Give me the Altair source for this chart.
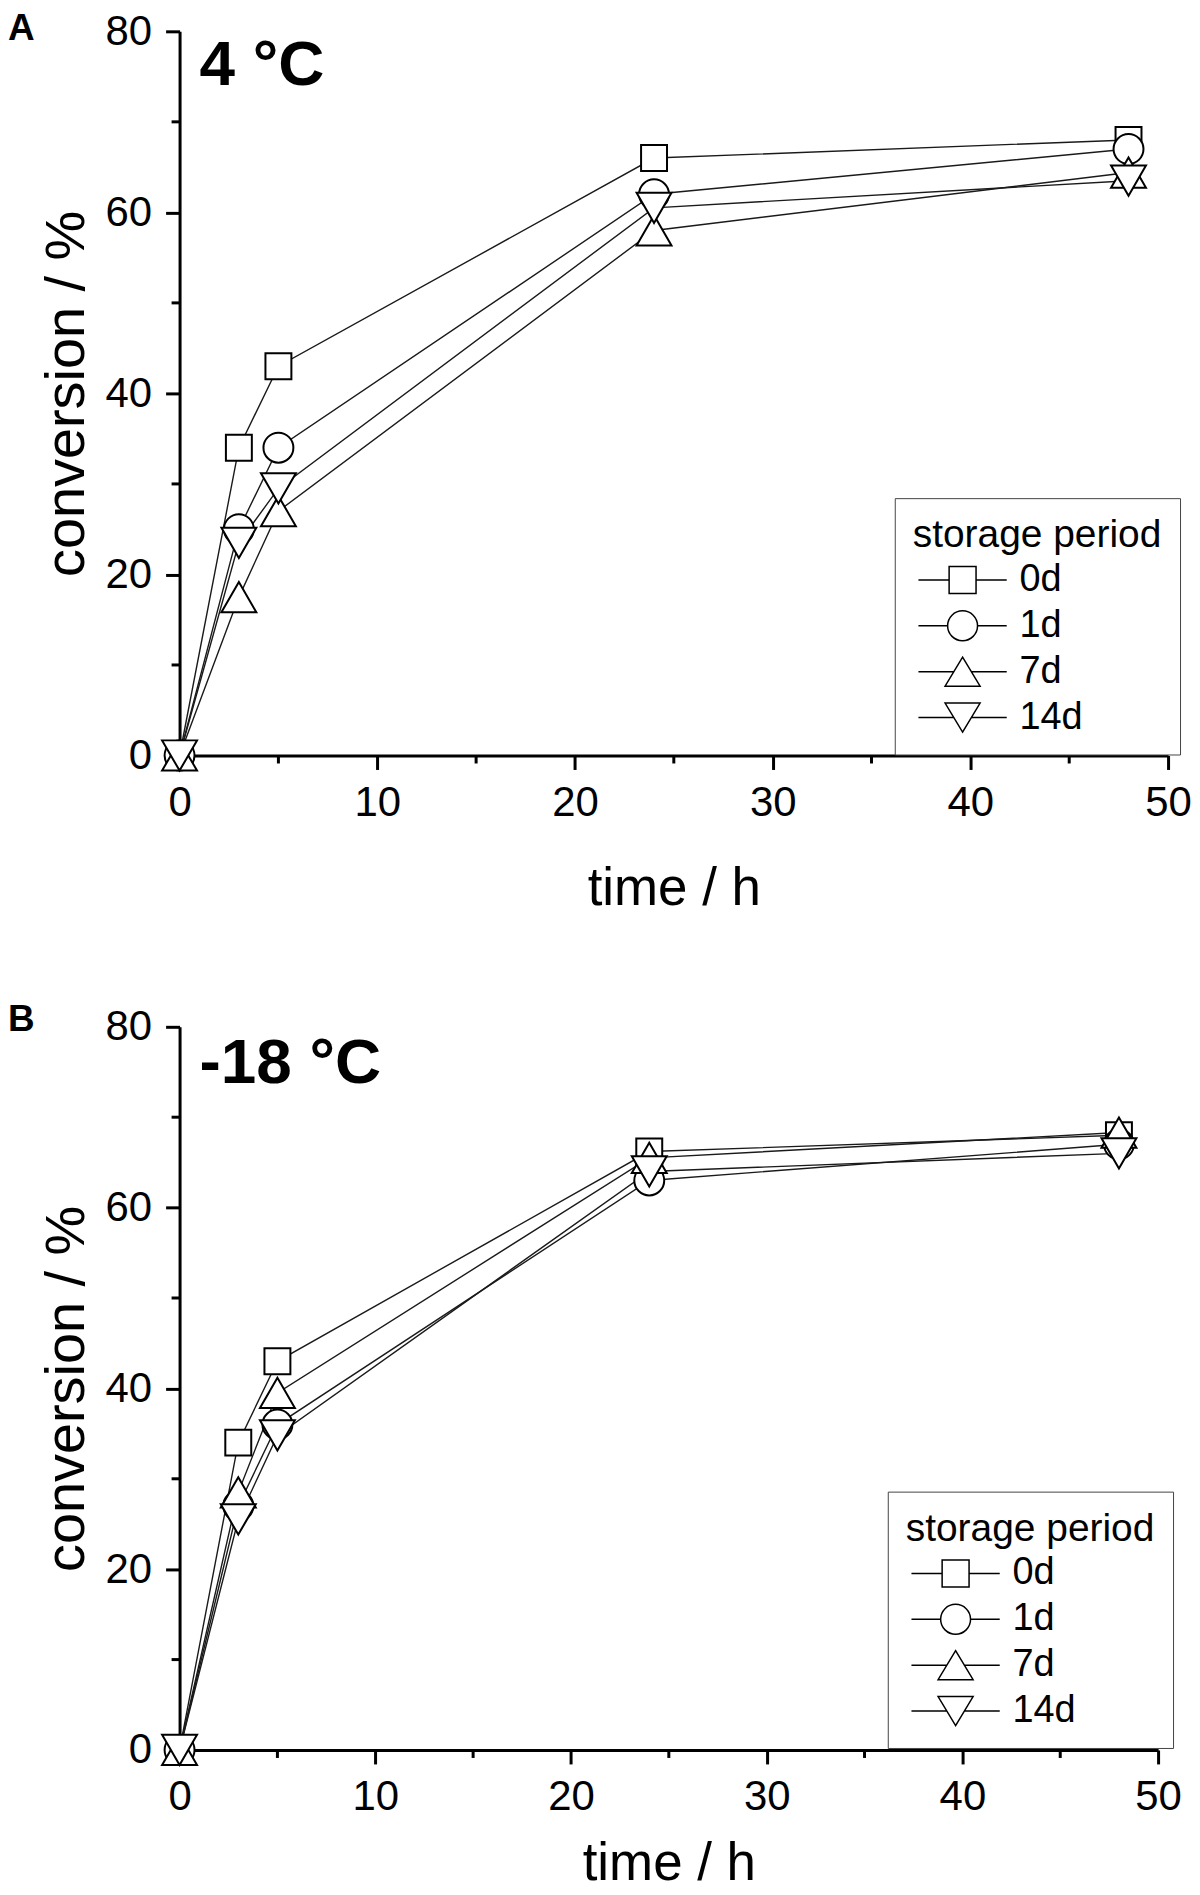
import altair as alt
import pandas as pd

# ---------------- data ----------------
time_h = [0, 3, 5, 24, 48]
periods = ["0d", "1d", "7d", "14d"]

conv_4C = {
    "0d": [0, 34, 43, 66, 68],
    "1d": [0, 25, 34, 62, 67],
    "7d": [0, 17.5, 27, 58, 64.4],
    "14d": [0, 23.5, 29.5, 60.5, 63.5],
}
conv_m18C = {
    "0d": [0, 34, 43, 66.2, 68],
    "1d": [0, 27, 36, 63, 67],
    "7d": [0, 28.5, 39.5, 65.5, 68.3],
    "14d": [0, 25.5, 34.8, 64, 66],
}
panel_letters = ["A", "B"]
panel_temps = ["4 °C", "-18 °C"]
x_major = [0, 10, 20, 30, 40, 50]
x_minor = [5, 15, 25, 35, 45]
y_major = [0, 20, 40, 60, 80]
y_minor = [10, 30, 50, 70]
legend_title = "storage period"
x_title = "time / h"
y_title = "conversion / %"

FONT = "Liberation Sans"

plot_shapes = ["square", "circle", "triangle-up", "triangle-down"]
plot_sizes = [676, 900, 1225, 1225]
# legend symbols: marker with a short line on both sides (unit box = 15 px)
legend_paths = [
    "M-2.95,0H-0.9M0.9,0H2.95M-0.9,-0.9H0.9V0.9H-0.9Z",
    "M-2.95,0H-1M1,0H2.95M-1,0A1,1,0,1,0,1,0A1,1,0,1,0,-1,0Z",
    "M-2.95,0H-0.585M0.585,0H2.95M0,-0.97L1.17,0.97L-1.17,0.97Z",
    "M-2.95,0H-0.585M0.585,0H2.95M0,0.97L1.17,-0.97L-1.17,-0.97Z",
]


def make_panel(values, letter, temp, w, h, leg_x, leg_y, temp_y, letter_y, xt_pad):
    rows = []
    for p in periods:
        for t, v in zip(time_h, values[p]):
            rows.append({"period": p, "time": t, "conv": v})
    df = pd.DataFrame(rows)
    xs = alt.Scale(domain=[0, 50], nice=False, zero=False)
    ys = alt.Scale(domain=[0, 80], nice=False, zero=False)
    base = alt.Chart(df)

    lines = base.mark_line(color="#1a1a1a", strokeWidth=1.4).encode(
        x=alt.X("time:Q", scale=xs,
                axis=alt.Axis(values=x_major, title=x_title, format="d",
                              titlePadding=xt_pad)),
        y=alt.Y("conv:Q", scale=ys,
                axis=alt.Axis(values=y_major, title=y_title, format="d")),
        detail="period:N",
    )
    point_layers = []
    for p, shp, sz in zip(periods, plot_shapes, plot_sizes):
        point_layers.append(
            base.transform_filter(alt.datum.period == p).mark_point(
                shape=shp, size=sz, filled=False, color="black", fill="white",
                fillOpacity=1, strokeWidth=2).encode(
                x=alt.X("time:Q", scale=xs), y=alt.Y("conv:Q", scale=ys)))

    legend_layer = base.transform_filter("false").mark_point(
        filled=False, color="black", fill="white", fillOpacity=1, strokeWidth=2).encode(
        shape=alt.Shape("period:N", scale=alt.Scale(domain=periods, range=legend_paths),
                        legend=alt.Legend(title=legend_title, orient="none",
                                          legendX=leg_x, legendY=leg_y, symbolSize=900)))

    minor_y = alt.Chart(pd.DataFrame({"v": y_minor})).mark_rule(
        color="black", strokeWidth=3).encode(
        y=alt.Y("v:Q", scale=ys), x=alt.value(-8), x2=alt.value(0))
    minor_x = alt.Chart(pd.DataFrame({"v": x_minor})).mark_rule(
        color="black", strokeWidth=3).encode(
        x=alt.X("v:Q", scale=xs), y=alt.value(h), y2=alt.value(h + 8))
    temp_text = alt.Chart(pd.DataFrame({"t": [temp]})).mark_text(
        font=FONT, fontSize=64, fontWeight="bold", align="left",
        baseline="alphabetic", color="black").encode(
        x=alt.value(20), y=alt.value(temp_y), text="t:N")
    letter_text = alt.Chart(pd.DataFrame({"t": [letter]})).mark_text(
        font=FONT, fontSize=37, fontWeight="bold", align="left",
        baseline="alphabetic", color="black").encode(
        x=alt.value(-172), y=alt.value(letter_y), text="t:N")

    return alt.layer(minor_y, minor_x, lines, *point_layers, legend_layer,
                     temp_text, letter_text).properties(width=w, height=h)


panelA = make_panel(conv_4C, panel_letters[0], panel_temps[0], 991, 726, 717, 468, 54, 9, 39)
panelB = make_panel(conv_m18C, panel_letters[1], panel_temps[1], 981, 725, 710, 466, 56, 4, 20)

chart = alt.vconcat(panelA, panelB, spacing=86).resolve_scale(
    x="independent", y="independent", shape="independent"
).resolve_legend(shape="independent").properties(
    padding={"left": 0, "top": 0, "right": 0, "bottom": 0},
    background="white",
).configure_view(stroke=None).configure_axis(
    domainColor="black", domainWidth=3, tickColor="black", tickWidth=3, tickSize=14,
    labelFont=FONT, labelFontSize=42, labelColor="black", labelFlush=False,
    labelOverlap=False, titleFont=FONT, titleFontWeight="normal", titleColor="black",
    grid=False,
).configure_axisX(
    labelPadding=13, titleFontSize=53,
).configure_axisY(
    labelPadding=14, titleFontSize=56, titlePadding=10,
).configure_legend(
    padding=18, strokeColor="#444444", fillColor="white",
    titleFont=FONT, titleFontSize=39, titleFontWeight="normal", titleColor="black",
    titlePadding=6, titleLimit=500, labelLimit=300,
    labelFont=FONT, labelFontSize=38, labelColor="black",
    labelOffset=38, symbolOffset=31, rowPadding=8,
)

chart.save("out.html", embed_options={"renderer": "svg", "actions": False})
